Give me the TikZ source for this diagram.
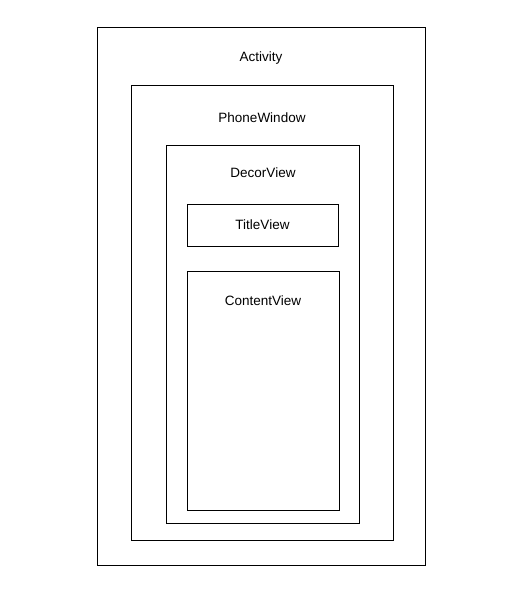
\documentclass[tikz,border=0pt]{standalone}
\usepackage{fontspec}
\setmainfont{Liberation Sans}
\usetikzlibrary{positioning}

\begin{document}
\begin{tikzpicture}[
    x=1pt, y=-1pt,
    layer/.style={draw, line width=0.8pt, inner sep=0pt, outer sep=0pt},
    caption/.style={font=\fontsize{13.5}{15}\selectfont, inner sep=0pt, anchor=center}
]
\useasboundingbox (0,0) rectangle (522,616);

\node[layer, minimum width=328pt, minimum height=538pt] (activity) at (261,296) {};
\node[layer, minimum width=262pt, minimum height=455pt] (window) at (262,312.5) {};
\node[layer, minimum width=193pt, minimum height=378pt] (decor) at (263,334) {};
\node[layer, minimum width=151pt, minimum height=42pt, caption] (title) at (262.5,225) {TitleView};
\node[layer, minimum width=152pt, minimum height=239pt] (content) at (263,390.5) {};

\node[caption, below=25pt of activity.north] (activitylbl) {Activity};
\node[caption, below=28pt of window.north] (windowlbl) {PhoneWindow};
\node[caption, below=23pt of decor.north] (decorlbl) {DecorView};
\node[caption, below=25pt of content.north] (contentlbl) {ContentView};
\end{tikzpicture}
\end{document}
